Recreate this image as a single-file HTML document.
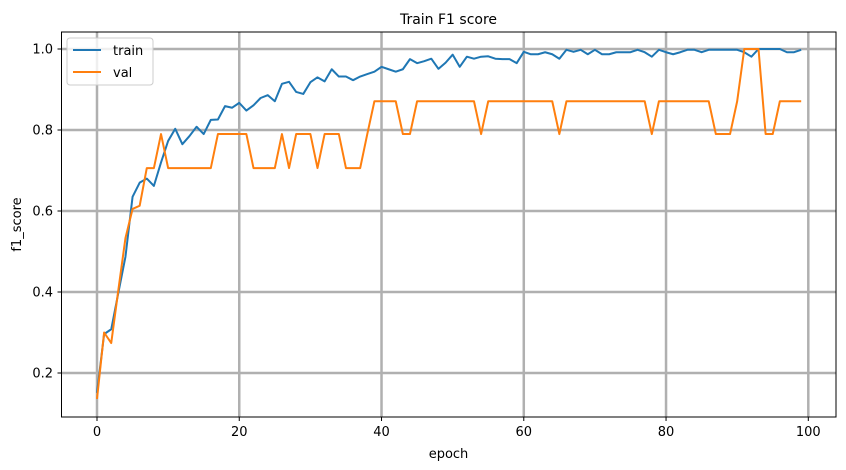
<!DOCTYPE html>
<html><head><meta charset="utf-8"><style>
body{margin:0;background:#fff;}
svg{display:block;font-family:"DejaVu Sans","Liberation Sans",sans-serif;}
</style></head><body>
<svg id="chart" width="846" height="470">
<rect width="846" height="470" fill="#fff"/>
<text x="448.5" y="24" text-anchor="middle" font-size="14">Train F1 score</text>
<g id="grid"></g>
<g id="series"></g>
<rect x="61.5" y="32" width="774.5" height="385" fill="none" stroke="#000" stroke-width="1"/>
<g id="ticks"></g>
<text x="448.5" y="458" text-anchor="middle" font-size="13">epoch</text>
<text transform="translate(21,224.5) rotate(-90)" text-anchor="middle" font-size="13">f1_score</text>
<g>
<rect x="67" y="38" width="86" height="47" rx="3" fill="#fff" fill-opacity="0.8" stroke="#ccc"/>
<line x1="73" y1="50" x2="101" y2="50" stroke="#1f77b4" stroke-width="2"/>
<text x="113" y="55" font-size="13">train</text>
<line x1="73" y1="72" x2="101" y2="72" stroke="#ff7f0e" stroke-width="2"/>
<text x="113" y="77" font-size="13">val</text>
</g>
</svg>
<script>
const xTicks=[0,20,40,60,80,100];
const yTicks=[0.2,0.4,0.6,0.8,1.0];
const yTickLabels=["0.2","0.4","0.6","0.8","1.0"];
const trainValues=[0.151,0.296,0.308,0.398,0.487,0.635,0.67,0.68,0.662,0.72,0.773,0.803,0.765,0.785,0.808,0.79,0.825,0.826,0.859,0.855,0.867,0.848,0.861,0.879,0.886,0.871,0.914,0.919,0.894,0.889,0.918,0.93,0.92,0.95,0.932,0.932,0.923,0.932,0.938,0.944,0.956,0.95,0.944,0.95,0.975,0.965,0.97,0.976,0.951,0.966,0.986,0.956,0.981,0.976,0.981,0.982,0.976,0.975,0.975,0.965,0.993,0.987,0.987,0.992,0.987,0.976,0.998,0.993,0.998,0.987,0.998,0.987,0.987,0.992,0.992,0.992,0.998,0.992,0.981,0.998,0.992,0.987,0.992,0.998,0.998,0.992,0.998,0.998,0.998,0.998,0.998,0.992,0.981,1.0,1.0,1.0,1.0,0.992,0.992,0.998];
const valValues=[0.136,0.30,0.274,0.405,0.533,0.605,0.613,0.706,0.706,0.79,0.706,0.706,0.706,0.706,0.706,0.706,0.706,0.79,0.79,0.79,0.79,0.79,0.706,0.706,0.706,0.706,0.79,0.706,0.79,0.79,0.79,0.706,0.79,0.79,0.79,0.706,0.706,0.706,0.79,0.871,0.871,0.871,0.871,0.79,0.79,0.871,0.871,0.871,0.871,0.871,0.871,0.871,0.871,0.871,0.79,0.871,0.871,0.871,0.871,0.871,0.871,0.871,0.871,0.871,0.871,0.79,0.871,0.871,0.871,0.871,0.871,0.871,0.871,0.871,0.871,0.871,0.871,0.871,0.79,0.871,0.871,0.871,0.871,0.871,0.871,0.871,0.871,0.79,0.79,0.79,0.871,1.0,1.0,1.0,0.79,0.79,0.871,0.871,0.871,0.871];
const NS="http://www.w3.org/2000/svg";
function xS(v){return 97+v*7.113;}
function yS(v){return 49+(1-v)*405;}
function mk(tag,attrs,parent){const e=document.createElementNS(NS,tag);for(const k in attrs)e.setAttribute(k,attrs[k]);parent.appendChild(e);return e;}
const grid=document.getElementById('grid'),ticks=document.getElementById('ticks'),series=document.getElementById('series');
xTicks.forEach(t=>{const x=xS(t);
 if(x<836){const g=mk('line',{x1:x,x2:x,y1:32,y2:417,stroke:'#b0b0b0','stroke-width':2.5},grid);
 
 }
 const tk=mk('line',{x1:x,x2:x,y1:417,y2:421,stroke:'#000'},ticks);
 
 
 const lb=mk('text',{x:x,y:436,'text-anchor':'middle','font-size':13},ticks);lb.textContent=String(t);
 
 
});
yTicks.forEach((t,i)=>{const y=yS(t);
 const g=mk('line',{x1:61.5,x2:836,y1:y,y2:y,stroke:'#b0b0b0','stroke-width':2.5},grid);
 
 
 const tk=mk('line',{x1:57.5,x2:61.5,y1:y,y2:y,stroke:'#000'},ticks);
 
 
 const lb=mk('text',{x:53,y:y+4.5,'text-anchor':'end','font-size':13},ticks);lb.textContent=yTickLabels[i];
 
 
});
function line(vals,color,name){
 const pts=vals.map((v,i)=>xS(i).toFixed(2)+','+yS(v).toFixed(2)).join(' ');
 const p=mk('polyline',{points:pts,fill:'none',stroke:color,'stroke-width':2,'stroke-linejoin':'round'},series);
 
 
}
line(trainValues,'#1f77b4','train-line');
line(valValues,'#ff7f0e','val-line');
</script>
</body></html>
